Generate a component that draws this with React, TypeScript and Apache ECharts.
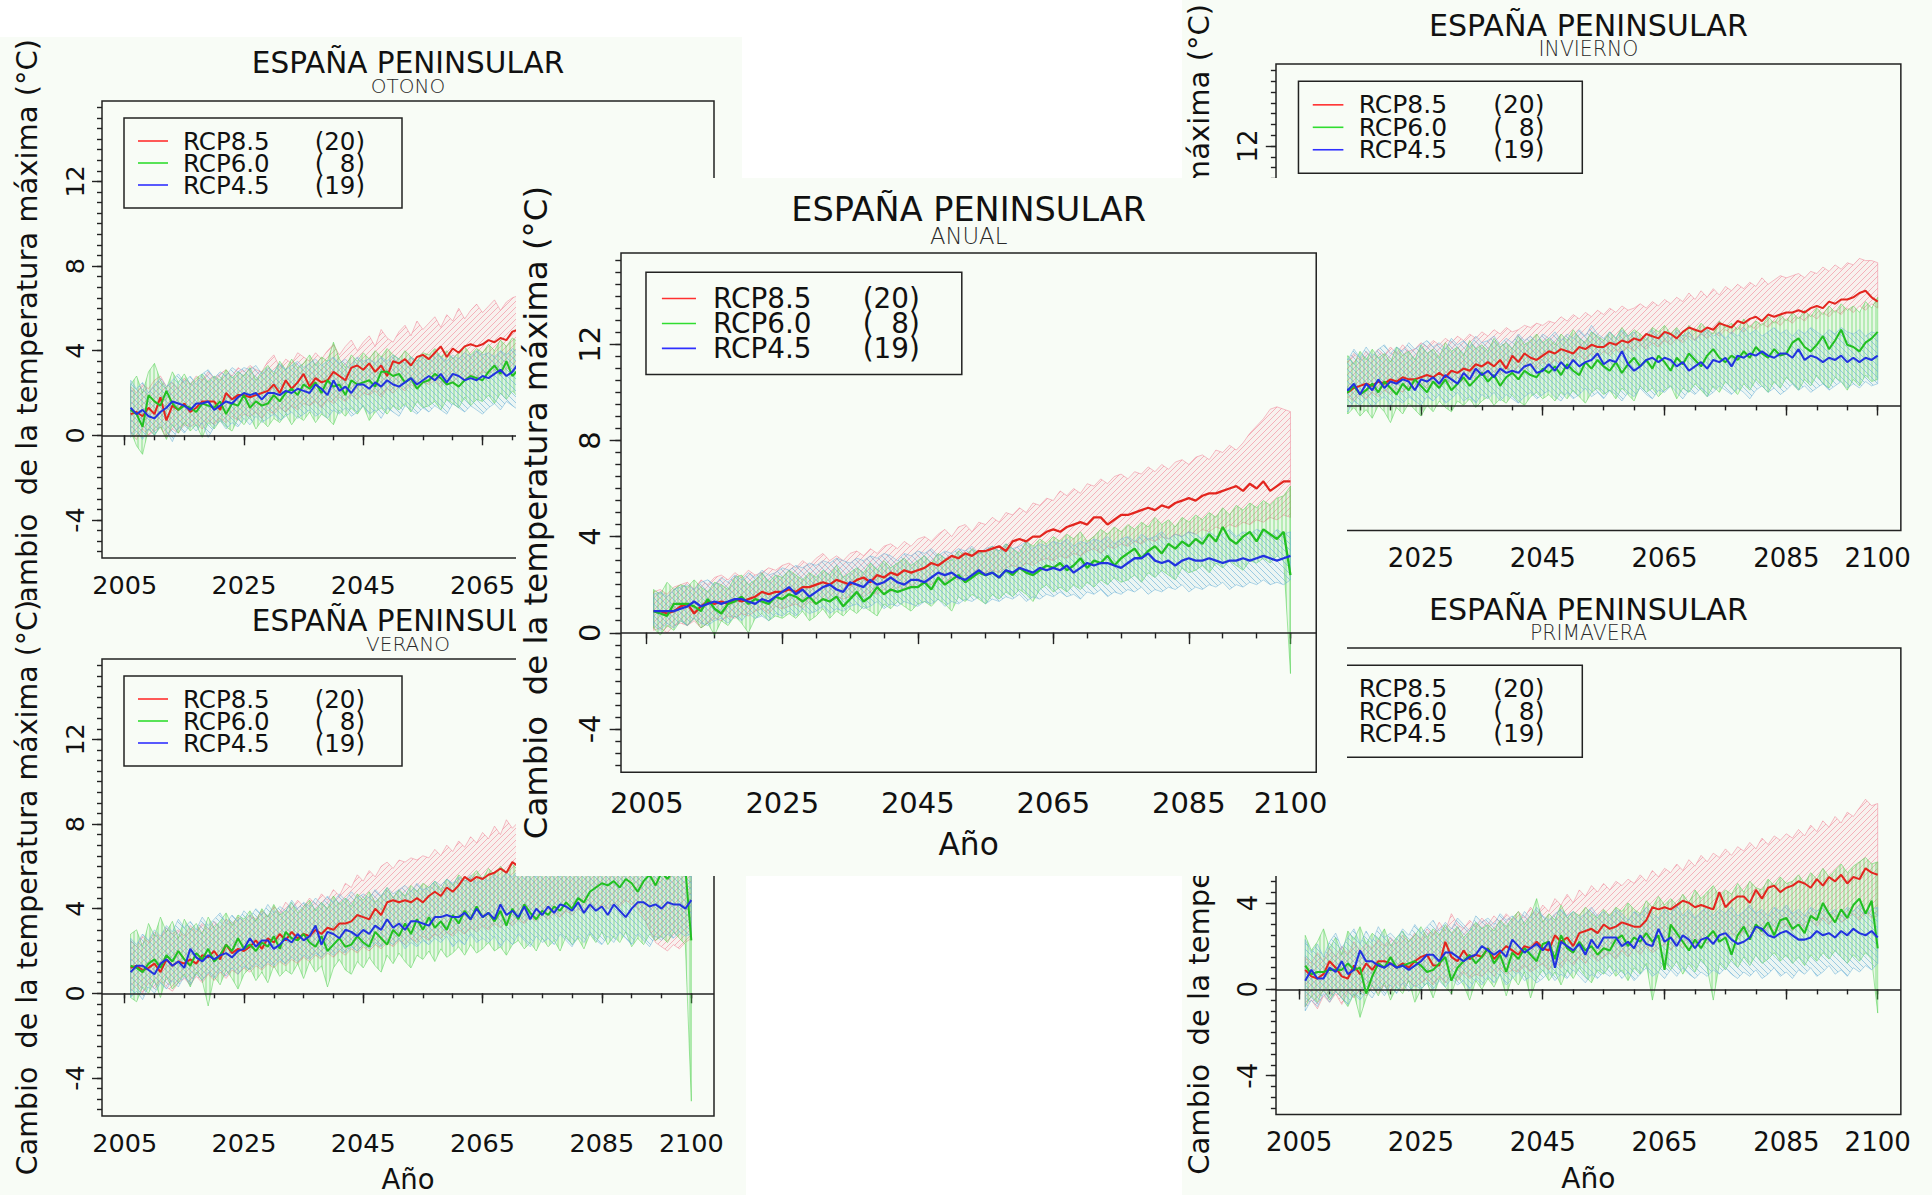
import React, { useEffect, useRef } from "react";
import * as echarts from "echarts";

// ---------------- DATA ----------------
const START_YEAR = 2006;
const TITLE = "ESPAÑA PENINSULAR";
const Y_NAME = "Cambio  de la temperatura máxima (°C)";
const X_NAME = "Año";
const SCENARIOS = ["RCP8.5", "RCP6.0", "RCP4.5"];
const MODEL_COUNTS = ["(20)", "(\u20078)", "(19)"];
const X_LABEL_TICKS = [2005, 2025, 2045, 2065, 2085, 2100];
const X_MINOR_TICKS = [2005, 2010, 2015, 2020, 2025, 2030, 2035, 2040, 2045, 2050, 2055, 2060, 2065, 2070, 2075, 2080, 2085, 2090, 2095, 2100];
const Y_LABEL_TICKS = [-4, 0, 4, 8, 12];
const Y_MINOR_TICKS = [-5.5, -5, -4.5, -4, -3.5, -3, -2.5, -2, -1.5, -1, -0.5, 0, 0.5, 1, 1.5, 2, 2.5, 3, 3.5, 4, 4.5, 5, 5.5, 6, 6.5, 7, 7.5, 8, 8.5, 9, 9.5, 10, 10.5, 11, 11.5, 12, 12.5, 13, 13.5, 14, 14.5, 15, 15.5];

// ANUAL
const anual85 = [0.9,0.9,0.8,0.9,1.1,1.2,0.8,1.1,1.3,1.2, 1.3,1.2,1.4,1.3,1.4,1.5,1.7,1.6,1.7,1.7, 1.8,1.7,1.9,1.9,2.0,2.1,2.0,2.2,2.1,2.0, 2.2,2.3,2.1,2.4,2.3,2.5,2.4,2.6,2.5,2.6, 2.7,2.9,2.8,3.0,3.2,3.1,3.3,3.2,3.4,3.4, 3.5,3.6,3.4,3.8,3.9,3.8,4.0,4.0,4.2,4.3, 4.2,4.4,4.5,4.6,4.5,4.8,4.8,4.5,4.7,4.9, 4.9,5.0,5.1,5.2,5.1,5.3,5.2,5.4,5.5,5.6, 5.5,5.7,5.8,5.8,5.9,6.0,6.1,5.9,6.2,6.0, 6.3,5.9,6.1,6.3,6.3];
const anual85Hi = [1.7,1.8,1.6,1.9,2.0,2.1,1.8,2.2,2.0,2.3, 2.4,2.2,2.5,2.3,2.6,2.4,2.5,2.7,2.6,2.8, 2.9,2.7,3.0,2.8,3.1,3.3,3.0,3.2,3.0,3.3, 3.4,3.2,3.5,3.3,3.6,3.7,3.5,3.8,3.6,3.9, 4.0,3.8,4.1,4.3,4.0,4.4,4.5,4.2,4.6,4.5, 4.8,4.6,5.0,4.9,5.2,5.0,5.4,5.3,5.6,5.5, 5.9,5.7,6.0,5.8,6.2,6.1,6.4,6.2,6.5,6.6, 6.4,6.7,6.6,6.9,6.7,7.0,6.8,7.1,7.2,7.0, 7.3,7.4,7.2,7.6,7.5,7.8,7.6,7.9,8.3,8.6, 8.9,9.3,9.4,9.3,9.2];
const anual85Lo = [0.1,0.2,0.0,0.3,0.4,0.3,0.5,0.2,0.4,0.6, 0.5,0.7,0.6,0.8,0.7,0.9,1.0,0.8,1.1,1.0, 1.1,1.2,1.0,1.3,1.2,1.4,1.3,1.5,1.4,1.5, 1.6,1.5,1.7,1.6,1.8,1.7,1.9,1.8,2.0,1.9, 2.1,2.0,2.2,2.1,2.3,2.2,2.4,2.3,2.5,2.5, 2.6,2.5,2.7,2.8,2.7,2.9,2.8,3.0,3.1,3.0, 3.2,3.1,3.3,3.2,3.4,3.5,3.3,3.6,3.5,3.7, 3.6,3.8,3.7,3.9,3.8,4.0,3.9,4.1,4.0,4.2, 4.1,4.3,4.2,4.4,4.3,4.5,4.4,4.6,4.5,4.7, 4.6,4.8,4.7,4.9,4.8];
const anual60 = [0.9,0.8,0.7,1.2,1.2,1.2,1.1,0.9,1.4,1.0, 0.8,1.2,1.3,1.5,1.2,1.4,1.3,1.2,1.5,1.4, 1.6,1.5,1.3,1.5,1.2,1.4,1.3,1.5,1.1,1.4, 1.7,1.3,1.5,1.9,1.6,1.8,1.7,1.8,1.9,1.9, 2.1,1.8,2.3,2.0,2.2,2.4,2.1,2.3,2.5,2.4, 2.5,2.3,2.6,2.4,2.7,2.5,2.4,2.6,2.8,2.7, 2.9,2.6,2.8,3.1,2.7,3.0,2.9,3.2,2.8,3.1, 3.3,3.5,3.1,3.4,3.6,3.3,3.7,3.5,3.8,3.6, 3.9,3.7,4.1,3.8,4.4,3.9,3.7,4.0,4.2,3.8, 4.3,4.1,3.9,4.2,2.4];
const anual60Hi = [1.8,1.6,2.1,1.8,2.0,1.9,2.2,1.9,1.7,2.1, 2.0,1.8,2.3,2.4,2.0,2.2,2.5,2.1,2.4,2.3, 2.6,2.4,2.2,2.5,2.3,2.6,2.4,2.8,2.3,2.5, 2.7,2.5,2.9,2.6,3.0,2.7,2.9,3.1,2.8,3.0, 3.2,2.9,3.3,3.1,3.0,3.4,3.2,3.5,3.3,3.4, 3.6,3.4,3.7,3.5,3.3,3.8,3.6,3.9,3.7,4.0, 3.8,4.1,3.9,4.2,3.8,4.0,4.3,4.1,4.4,4.2, 4.5,4.3,4.6,4.4,4.8,4.5,4.7,4.4,4.8,4.6, 4.9,4.7,5.0,4.8,5.2,4.9,5.3,5.1,5.4,5.2, 5.5,5.3,5.6,5.7,6.1];
const anual60Lo = [0.2,-0.1,0.3,0.1,0.5,0.3,0.6,0.2,0.4,-0.1, 0.5,0.3,0.7,0.4,0.0,0.6,0.8,0.5,0.7,0.6, 0.8,0.6,0.9,0.5,0.7,1.0,0.6,0.9,0.7,1.0, 0.8,1.1,0.9,0.7,1.2,1.0,1.3,1.1,0.9,1.2, 1.3,1.1,1.4,1.2,0.9,1.5,1.3,1.6,1.4,1.2, 1.6,1.4,1.7,1.5,1.8,1.6,1.3,1.8,2.0,1.7, 1.9,1.7,2.0,1.8,2.1,1.9,2.2,2.0,2.3,2.1, 2.2,2.4,2.1,2.5,2.3,2.6,2.4,2.2,2.7,2.5, 2.6,2.8,2.5,2.9,2.7,3.0,2.8,2.6,3.0,2.9, 3.1,2.9,3.2,3.0,-1.7];
const anual45 = [0.9,0.9,0.9,0.9,1.0,1.1,1.3,1.1,1.2,1.3, 1.2,1.3,1.4,1.4,1.3,1.2,1.4,1.3,1.5,1.7, 1.9,1.6,1.8,1.5,1.7,1.9,2.0,1.8,1.7,2.1, 2.0,1.9,2.2,2.0,2.1,2.3,2.1,2.0,2.2,2.2, 2.1,2.3,2.5,2.4,2.5,2.3,2.2,2.4,2.6,2.4, 2.5,2.3,2.6,2.5,2.7,2.6,2.5,2.7,2.6,2.7, 2.6,2.8,2.5,2.7,2.9,2.8,2.9,2.9,2.8,2.7, 2.9,3.1,3.1,3.3,3.0,2.9,3.0,2.8,3.0,3.1, 3.0,3.0,3.1,3.0,2.9,3.0,3.0,3.1,3.0,3.1, 3.2,3.1,3.0,3.1,3.2];
const anual45Hi = [1.6,1.7,1.5,1.8,1.9,2.0,1.8,2.1,2.2,2.0, 2.3,2.1,2.4,2.2,2.5,2.3,2.6,2.4,2.5,2.7, 2.6,2.8,2.7,2.9,2.8,3.0,2.9,3.1,3.0,2.9, 3.1,3.0,3.2,3.1,3.3,3.2,3.0,3.3,3.2,3.4, 3.3,3.5,3.2,3.4,3.3,3.5,3.4,3.6,3.3,3.5, 3.6,3.4,3.7,3.5,3.6,3.8,3.5,3.7,3.6,3.8, 3.7,3.9,3.6,3.8,3.7,3.9,3.8,4.0,3.7,3.9, 4.0,3.8,4.1,3.9,4.0,4.2,3.9,4.1,4.0,4.2, 4.1,3.9,4.2,4.0,4.1,4.3,4.0,4.2,4.1,4.3, 4.2,4.0,4.3,4.1,4.2];
const anual45Lo = [0.3,0.1,0.4,0.2,0.5,0.3,0.6,0.4,0.3,0.5, 0.6,0.4,0.7,0.5,0.8,0.6,0.7,0.5,0.8,0.7, 0.9,0.7,1.0,0.8,0.9,1.1,0.8,1.0,0.9,1.1, 1.2,1.0,1.1,1.3,1.0,1.2,1.1,1.3,1.2,1.1, 1.3,1.2,1.4,1.1,1.3,1.2,1.4,1.3,1.5,1.2, 1.4,1.3,1.5,1.4,1.6,1.3,1.5,1.4,1.6,1.5, 1.7,1.5,1.6,1.4,1.7,1.6,1.8,1.5,1.7,1.6, 1.8,1.7,1.9,1.6,1.8,1.7,1.9,1.8,2.0,1.7, 1.9,1.8,2.0,1.9,2.1,1.8,2.0,1.9,2.1,2.0, 2.2,2.0,2.1,2.0,2.2];

// OTOÑO (2006-2075, rest hidden under the ANUAL panel)
const otono85 = [1.0,1.1,0.9,1.3,1.0,1.8,0.7,1.4,1.2,1.5, 1.1,1.3,1.6,1.6,1.6,1.2,2.0,1.7,1.9,1.9, 1.8,1.9,2.0,2.1,2.4,2.0,2.6,2.2,2.5,2.9, 2.3,2.7,2.5,2.6,3.0,2.8,2.6,3.2,3.3,3.1, 3.4,3.0,3.3,2.8,3.5,3.4,3.6,3.3,3.7,3.8, 3.6,3.9,4.2,3.7,4.1,3.9,4.2,4.3,4.2,4.3, 4.5,4.4,4.6,4.5,4.9,5.0,4.9,5.2,5.1,5.3];
const otono85Hi = [2.3,2.0,2.4,2.2,2.6,2.8,2.3,2.5,2.2,2.7, 2.4,2.8,2.6,3.0,2.7,2.9,3.1,2.8,3.2,3.0, 3.3,3.1,3.0,3.5,3.8,3.2,3.6,3.4,3.9,3.7, 3.5,3.9,3.6,4.0,4.3,3.8,4.2,4.5,4.0,4.4, 4.7,4.2,5.0,4.6,4.4,4.9,5.2,4.7,5.4,5.0, 5.3,5.6,5.1,5.7,5.4,6.0,5.5,5.9,6.2,5.8, 6.1,6.4,5.9,6.3,6.5,6.6,6.4,6.7,6.5,6.8];
const otono85Lo = [0.1,-0.2,0.3,0.0,0.2,0.4,-0.1,0.3,0.1,0.5, 0.4,0.6,0.3,0.7,0.5,0.8,0.6,0.9,0.7,1.0, 0.9,1.1,0.8,1.2,1.0,1.3,1.1,1.4,1.2,1.5, 1.4,1.6,1.3,1.7,1.5,1.8,1.6,1.9,1.7,2.0, 1.9,2.1,1.8,2.2,2.0,2.3,2.1,2.4,2.2,2.5, 2.4,2.6,2.3,2.7,2.5,2.8,2.6,2.9,2.7,3.0, 2.9,3.1,2.8,3.2,3.0,3.3,3.1,3.4,3.2,3.5];
const otono60 = [1.2,1.0,0.4,1.9,1.6,1.4,2.1,1.5,1.2,1.4, 1.3,1.1,1.5,1.4,1.3,1.6,1.0,1.5,1.4,1.9, 1.3,1.6,1.4,1.5,1.9,1.6,2.0,2.2,1.9,2.4, 2.2,2.5,2.0,2.6,2.3,2.4,1.9,2.6,2.4,2.5, 2.6,2.3,3.0,3.0,2.8,2.9,2.5,2.7,2.2,2.5, 2.6,2.9,2.7,2.4,2.5,2.3,2.6,2.8,2.7,2.6, 3.0,3.3,2.9,3.5,2.8,3.1,3.3,3.0,3.4,3.2];
const otono60Hi = [2.4,2.8,2.0,3.0,3.4,2.6,2.2,3.0,2.5,2.9, 2.4,2.7,2.9,2.5,2.8,2.6,3.1,2.7,3.0,2.8, 3.2,2.6,3.0,3.3,2.9,3.5,3.1,3.6,3.2,3.4, 3.8,3.3,3.7,3.5,4.4,3.6,3.2,3.8,3.5,3.9, 3.6,4.0,3.7,4.1,3.8,3.6,4.0,3.7,3.5,3.9, 3.8,4.1,3.7,4.0,3.6,3.9,4.2,3.8,4.1,3.9, 4.3,4.0,4.5,4.2,4.6,4.4,4.7,4.5,4.8,4.6];
const otono60Lo = [0.2,-0.5,-0.9,0.3,0.0,0.4,-0.2,0.5,0.1,0.6, 0.2,0.5,-0.1,0.6,0.3,0.7,0.4,0.2,0.8,0.5, 0.9,0.3,0.7,0.4,0.8,0.6,1.0,0.5,0.9,0.7, 1.1,0.6,1.0,0.8,0.5,1.2,0.9,1.3,1.0,1.4, 0.7,1.1,1.3,1.0,1.4,1.2,1.5,1.1,1.6,1.3, 1.4,1.6,1.2,1.7,1.5,1.3,1.8,1.4,1.7,1.6, 1.9,1.5,2.0,1.7,2.1,1.8,2.2,1.9,2.3,2.0];
const otono45 = [1.3,1.0,1.2,0.9,0.8,1.1,1.3,1.6,1.5,1.4, 1.2,1.5,1.5,1.6,1.2,1.4,1.6,1.5,1.8,2.0, 1.9,2.0,1.7,2.0,2.0,1.9,2.1,2.0,2.2,2.1, 2.0,2.4,2.2,1.9,2.6,2.1,2.3,2.0,2.4,2.4, 2.2,2.5,2.3,2.6,2.4,2.3,2.5,2.7,2.4,2.6, 2.8,2.6,2.9,2.5,2.9,2.8,2.6,2.7,2.6,2.8, 2.7,2.9,3.1,2.8,3.0,3.4,3.2,3.3,3.1,3.4];
const otono45Hi = [2.6,2.2,2.5,2.0,2.4,2.7,2.3,2.6,2.9,2.5, 2.8,2.4,2.9,3.1,2.7,3.0,2.8,3.2,3.0,3.2, 3.1,3.3,2.9,3.2,3.0,3.4,3.1,3.3,3.5,3.2, 3.4,3.6,3.3,3.5,3.7,3.4,3.6,3.3,3.7,3.5, 3.6,3.4,3.7,3.5,3.8,3.6,3.4,3.7,3.5,3.8, 3.6,3.9,3.7,3.5,3.8,3.6,3.9,3.7,4.0,3.8, 3.9,3.7,4.0,3.8,4.1,3.9,4.2,4.0,4.3,4.1];
const otono45Lo = [-0.1,0.2,-0.2,0.3,0.0,0.5,0.2,-0.3,0.4,0.1, 0.5,0.2,0.6,-0.1,0.4,0.7,0.3,0.6,0.4,0.8, 0.5,0.9,0.6,0.8,1.0,0.7,0.9,1.1,0.8,1.0, 1.2,0.9,1.1,0.8,1.2,1.0,1.3,0.9,1.1,1.4, 1.0,1.2,0.8,1.3,1.1,0.9,1.4,1.2,1.0,1.3, 1.1,1.4,1.2,1.0,1.5,1.3,1.1,1.4,1.2,1.0, 1.3,1.5,1.2,1.6,1.4,1.2,1.7,1.5,1.3,1.6];

// VERANO
const verano85 = [1.2,1.3,1.1,1.2,1.4,1.0,1.6,1.3,1.5,1.4, 1.6,1.4,1.8,1.7,2.0,1.6,2.3,1.9,2.1,2.0, 2.2,2.5,2.1,2.6,2.4,2.8,2.5,2.9,2.6,2.8, 2.7,3.0,2.8,3.1,3.0,3.3,3.3,3.4,3.7,3.6, 3.5,4.0,3.7,4.3,4.4,4.3,4.4,4.3,4.5,4.3, 4.6,4.8,4.6,5.0,4.8,5.1,5.5,5.3,5.5,5.4, 5.6,5.7,5.9,5.7,6.2,6.0,6.3,6.1,6.5,6.4, 6.6,6.5,6.8,6.7,7.0,6.8,7.1,7.0,7.2,7.1, 7.3,7.4,7.2,7.6,7.5,7.7,7.6,7.9,7.8,8.0, 8.1,7.9,8.2,8.1,8.2];
const verano85Hi = [2.5,2.2,2.7,2.4,2.9,2.6,3.1,2.8,3.0,2.7, 3.2,2.9,3.3,3.0,3.4,3.1,3.5,3.3,3.6,3.4, 3.7,3.5,3.9,3.6,4.1,3.8,4.3,4.0,4.4,4.1, 4.5,4.2,4.7,4.4,4.9,4.6,5.2,5.0,5.6,5.3, 5.8,5.5,6.0,6.2,5.9,6.3,6.2,6.4,6.3,6.5, 6.4,6.8,6.5,7.0,6.7,7.2,6.9,7.4,7.1,7.6, 7.3,7.9,7.5,8.2,7.8,8.1,8.3,8.0,8.5,8.2, 8.6,8.4,8.8,8.5,9.0,8.7,9.2,8.9,9.3,9.1, 9.5,9.2,9.6,9.4,9.8,9.5,10.0,9.7,10.1,9.9, 10.2,10.0,10.3,10.1,10.2];
const verano85Lo = [0.1,0.4,0.0,0.5,0.2,0.6,0.3,0.1,0.5,0.7, 0.4,0.8,0.5,0.9,0.6,1.0,0.7,1.1,0.9,1.2, 1.0,1.3,1.1,1.4,1.2,1.5,1.3,1.6,1.4,1.7, 1.5,1.8,1.6,1.9,1.7,2.0,1.8,2.1,1.9,2.2, 2.0,2.3,2.1,2.4,2.2,2.5,2.3,2.6,2.4,2.7, 2.5,2.8,2.6,2.9,2.7,3.0,2.8,3.1,2.9,3.2, 3.0,3.3,3.1,3.4,3.2,3.5,3.3,3.6,3.4,3.7, 3.5,3.8,3.6,3.9,3.7,4.0,3.8,4.1,3.9,4.2, 4.0,4.3,4.1,4.4,4.2,4.0,3.6,3.0,2.4,2.2, 2.0,2.3,2.1,2.4,2.6];
const verano60 = [1.3,1.2,1.0,1.4,1.6,1.2,1.8,1.5,2.0,1.6, 1.3,1.9,1.6,2.1,1.5,1.8,2.3,2.0,2.6,2.1, 2.3,2.0,2.4,2.2,2.7,2.1,2.9,2.6,2.5,2.8, 2.4,2.2,2.7,2.0,2.3,2.6,2.2,2.3,2.7,2.4, 2.2,2.9,2.6,2.3,3.0,2.7,3.3,2.8,3.5,3.0, 3.6,3.1,3.4,3.0,3.7,3.3,3.9,3.5,4.1,3.6, 3.8,3.4,3.9,3.2,4.0,3.5,4.2,3.8,3.5,3.9, 3.7,4.1,3.9,4.3,4.0,4.5,4.3,4.8,5.0,5.2, 5.1,5.3,5.0,5.4,5.2,4.8,5.3,5.6,5.1,5.7, 5.4,5.8,5.6,5.9,2.5];
const verano60Hi = [2.8,3.0,2.2,3.3,2.7,3.6,2.9,3.4,2.6,3.5, 3.0,3.3,2.8,3.6,3.1,3.4,3.8,3.2,3.7,3.5, 3.9,3.4,4.0,3.6,4.2,3.7,3.9,4.3,3.8,4.1, 4.4,3.9,4.3,4.0,4.6,4.2,4.5,4.1,4.7,4.4, 4.8,4.3,4.6,5.0,4.5,4.9,4.6,5.1,4.8,5.2, 5.0,5.3,4.9,5.4,5.1,5.6,5.3,5.5,5.8,5.4, 5.9,5.6,6.0,5.7,6.1,5.8,6.2,5.9,6.3,6.0, 6.4,6.1,6.5,6.2,6.6,6.3,6.8,6.5,7.0,6.7, 7.1,6.8,7.2,6.9,7.3,7.0,7.4,7.1,7.5,7.2, 7.6,7.3,7.7,7.5,7.6];
const verano60Lo = [-0.2,-0.4,0.3,0.0,0.6,-0.2,0.8,0.2,0.5,0.9, 0.3,1.0,0.6,-0.6,0.8,0.4,1.1,0.7,0.2,0.9, 1.2,0.6,1.0,0.5,1.3,0.8,1.1,0.9,1.4,0.7, 1.5,1.0,1.3,0.3,1.2,1.6,1.1,0.9,1.5,1.2, 1.7,1.3,1.0,1.8,1.4,1.9,1.5,1.2,1.8,1.6, 2.0,1.5,2.1,1.7,1.9,2.2,1.8,2.3,1.9,2.1, 2.4,2.0,2.2,1.8,2.3,2.5,2.1,2.4,2.0,2.6, 2.2,2.5,2.0,2.7,2.3,2.6,2.1,2.8,2.4,2.9, 2.3,2.7,2.4,2.9,2.2,2.6,2.3,2.8,2.5,2.7, 2.4,2.9,2.6,2.3,-5.1];
const verano45 = [1.0,1.3,1.3,1.1,0.9,1.4,1.6,1.3,1.5,1.2, 2.1,1.7,1.5,1.8,1.6,1.8,1.9,1.7,2.0,2.1, 2.6,2.2,2.5,2.5,2.1,2.3,2.6,2.4,2.8,2.5, 2.7,3.2,2.3,2.9,2.8,2.6,3.0,2.9,2.7,3.0, 2.8,3.2,3.0,3.5,3.1,3.3,3.0,3.4,3.4,3.3, 3.2,3.6,3.6,3.7,3.6,3.6,3.8,3.5,4.0,3.6, 3.8,3.5,4.2,3.7,3.9,3.6,4.1,3.5,4.0,3.7, 4.1,3.8,4.2,4.1,3.9,4.3,3.8,4.2,3.9,4.1, 3.7,4.2,3.9,3.6,4.0,4.3,4.3,4.1,4.2,4.0, 4.3,4.2,4.2,4.0,4.4];
const verano45Hi = [2.6,2.3,2.8,2.5,3.0,2.7,3.2,2.9,3.5,3.1, 3.4,3.0,3.6,3.2,3.5,3.8,3.3,3.7,3.4,3.9, 3.6,4.0,3.7,4.2,3.8,4.1,3.9,4.4,4.0,4.3, 4.1,4.5,4.2,4.6,4.3,4.7,4.4,4.8,4.5,4.7, 4.5,4.9,4.6,5.0,4.7,4.9,5.1,4.8,5.2,4.9, 5.0,5.3,5.1,5.4,5.2,5.5,5.3,5.6,5.2,5.5, 5.3,5.6,5.4,5.7,5.5,5.8,5.4,5.7,5.5,5.8, 5.6,5.9,5.5,5.8,5.6,5.9,5.7,6.0,5.8,6.1, 5.9,6.2,5.8,6.1,5.9,6.3,6.0,6.2,6.1,6.4, 6.2,6.5,6.3,6.4,6.3];
const verano45Lo = [-0.2,0.1,-0.3,0.3,0.0,0.5,0.2,0.6,0.3,0.8, 0.4,0.9,0.6,1.0,0.7,1.1,0.8,1.2,0.9,1.3, 1.1,1.4,1.2,1.5,1.3,1.6,1.4,1.7,1.5,1.8, 1.6,1.9,1.7,2.0,1.8,2.1,1.9,2.2,2.0,2.3, 2.1,2.4,2.2,2.5,2.3,2.6,2.1,2.4,2.2,2.5, 2.3,2.6,2.4,2.7,2.2,2.5,2.3,2.8,2.4,2.6, 2.4,2.7,2.2,2.6,2.3,2.8,2.5,2.2,2.7,2.4, 2.6,2.3,2.8,2.5,2.2,2.7,2.4,2.9,2.5,2.3, 2.7,2.4,2.9,2.6,2.3,2.8,2.5,2.2,2.7,2.5, 2.8,2.6,2.9,2.7,2.8];

// INVIERNO
const invierno85 = [0.3,0.5,0.4,0.6,0.5,0.7,0.6,0.6,0.8,0.9, 1.0,0.9,1.1,1.0,1.2,1.1,1.3,1.2,1.2,1.3, 1.4,1.3,1.5,1.3,1.6,1.5,1.7,1.6,1.9,1.8, 2.0,1.8,2.1,1.7,2.3,2.0,2.4,2.2,2.1,2.3, 2.5,2.4,2.6,2.5,2.4,2.7,2.6,2.8,2.7,2.7, 2.9,2.8,3.0,2.9,3.1,3.0,3.3,3.2,3.1,3.4, 3.3,3.1,3.4,3.6,3.5,3.4,3.6,3.5,3.8,3.7, 3.6,3.9,3.8,4.0,4.1,3.9,4.2,4.1,4.2,4.3, 4.3,4.4,4.3,4.5,4.6,4.5,4.8,4.7,4.9,4.9, 5.0,5.2,5.3,5.0,4.8];
const invierno85Hi = [1.9,1.6,2.1,1.8,2.2,1.9,2.3,2.0,2.4,2.1, 2.5,2.2,2.6,2.3,2.7,2.4,2.8,2.5,2.6,2.9, 2.7,3.0,2.8,3.1,2.9,3.2,3.0,3.3,3.1,3.4, 3.2,3.5,3.3,3.6,3.4,3.5,3.7,3.6,3.8,3.7, 3.9,3.8,4.1,3.9,4.2,4.0,4.3,4.1,4.4,4.2, 4.5,4.3,4.6,4.4,4.5,4.7,4.5,4.8,4.6,4.9, 4.7,5.0,4.8,5.2,4.9,5.3,5.0,5.4,5.1,5.5, 5.3,5.6,5.4,5.7,5.5,5.9,5.6,5.8,6.0,5.9, 6.0,6.1,5.9,6.2,6.1,6.4,6.2,6.5,6.3,6.6, 6.5,6.8,6.7,6.7,6.6];
const invierno85Lo = [-0.3,0.0,-0.2,0.2,0.0,0.3,0.1,0.4,0.2,0.5, 0.3,0.6,0.4,0.7,0.5,0.8,0.6,0.9,0.7,1.0, 0.8,1.1,0.9,1.2,1.0,1.3,1.1,1.4,1.2,1.5, 1.3,1.6,1.4,1.7,1.5,1.8,1.6,1.9,1.7,2.0, 1.8,2.1,1.9,2.2,2.0,2.3,2.1,2.4,2.2,2.5, 2.3,2.6,2.4,2.7,2.5,2.8,2.6,2.9,2.7,3.0, 2.8,3.1,2.9,3.2,3.0,3.3,3.1,3.4,3.2,3.5, 3.3,3.6,3.4,3.7,3.5,3.8,3.6,3.9,3.7,4.0, 3.8,4.1,3.9,4.2,4.0,4.3,4.1,4.4,4.2,4.5, 4.3,4.6,4.4,4.7,4.5];
const invierno60 = [0.5,0.2,0.6,0.3,0.7,0.4,0.8,0.6,0.9,0.5, 0.7,1.0,0.6,1.1,0.8,0.5,1.0,0.7,1.2,0.9, 0.6,1.1,0.8,1.2,0.7,1.0,1.3,0.9,1.2,1.5, 1.1,1.4,0.9,1.3,1.5,1.2,1.6,1.4,1.3,1.7, 1.5,1.8,1.4,1.9,1.6,1.4,2.0,1.7,2.1,1.8, 1.6,2.0,1.5,1.9,2.2,1.8,2.1,1.7,2.3,2.0, 1.6,2.2,1.9,2.4,2.1,1.8,2.3,2.6,2.2,2.0, 2.3,2.1,2.5,2.2,2.7,2.4,2.2,2.6,2.3,2.4, 2.9,3.1,2.7,2.5,2.8,3.2,2.6,3.0,3.5,2.8, 2.7,2.5,2.9,3.1,3.4];
const invierno60Hi = [1.9,2.3,1.7,2.2,1.8,2.4,2.0,2.3,1.9,2.5, 2.1,2.6,2.2,2.4,2.0,2.7,2.3,2.5,2.1,2.8, 2.4,2.6,2.2,2.9,2.5,2.7,2.3,3.0,2.6,2.8, 2.5,3.1,2.7,2.9,2.6,3.2,2.8,3.0,3.3,2.9, 3.1,2.8,3.3,3.0,3.5,3.1,2.9,3.4,3.2,3.0, 3.4,3.1,3.6,3.2,3.5,3.3,3.0,3.6,3.4,3.7, 3.3,3.6,3.2,3.7,3.4,3.8,3.5,3.3,3.9,3.6, 3.8,3.5,4.0,3.6,3.9,3.7,4.1,3.8,4.2,3.9, 4.3,4.0,4.4,4.1,4.5,4.2,4.6,4.3,4.7,4.4, 4.6,4.3,4.8,4.5,5.0];
const invierno60Lo = [-0.6,-0.2,-0.5,-0.1,-0.7,-0.3,0.0,-0.4,-0.1,-0.5, -0.2,-0.6,0.0,-0.3,-0.8,-0.1,-0.4,0.1,-0.2,-0.5, 0.0,-0.3,0.2,-0.1,-0.3,0.2,0.0,0.3,-0.1,0.2, 0.4,0.0,0.3,0.1,0.5,0.2,0.0,0.4,0.6,0.3, 0.5,0.2,0.6,0.3,0.7,0.4,0.1,0.6,0.8,0.5, 0.7,0.3,0.8,0.5,0.2,0.9,0.6,0.8,0.4,0.7, 0.9,0.3,0.8,0.6,1.0,0.7,0.4,0.9,0.6,1.1, 0.8,0.5,1.0,0.7,1.2,0.9,0.6,1.1,0.8,1.3, 1.0,0.7,1.2,0.9,1.4,1.0,0.8,1.3,1.1,0.7, 1.2,0.9,1.4,1.1,1.2];
const invierno45 = [0.6,0.9,0.5,0.8,1.0,0.6,0.9,0.7,1.0,0.5, 1.0,0.7,1.2,0.8,1.1,1.0,1.2,1.1,0.7,1.2, 1.1,1.3,1.0,1.4,1.2,1.0,1.5,1.2,1.7,1.4, 1.6,1.3,1.7,1.5,1.6,1.5,1.8,1.9,1.5,1.6, 1.9,1.6,2.0,1.7,2.1,1.8,2.0,2.1,2.4,1.9, 2.1,2.0,2.5,1.9,1.6,1.8,2.1,2.2,2.0,2.2, 2.1,1.8,2.0,1.6,1.8,2.0,1.7,2.1,2.0,2.2, 1.8,2.3,2.2,2.4,2.3,2.5,2.3,2.2,2.4,2.4, 2.2,2.6,2.1,2.3,2.2,2.0,2.2,2.1,2.3,2.0, 2.2,2.0,2.2,2.1,2.3];
const invierno45Hi = [2.2,1.8,2.4,2.0,2.3,1.9,2.5,2.1,2.6,2.2, 2.7,2.3,2.6,2.8,2.4,2.7,2.5,2.9,2.6,2.8, 3.0,2.7,2.9,2.6,3.1,2.8,3.0,2.7,3.2,2.9, 3.0,3.2,2.8,3.1,2.9,3.3,3.0,3.2,2.9,3.3, 3.1,3.4,3.0,3.3,3.1,3.5,3.2,3.7,3.3,3.1, 3.4,3.1,3.5,3.2,3.4,3.0,3.3,3.5,3.2,3.4, 3.1,3.5,3.2,3.4,3.0,3.3,3.5,3.2,3.4,3.1, 3.4,3.2,3.6,3.3,3.5,3.2,3.4,3.6,3.3,3.5, 3.2,3.5,3.3,3.6,3.4,3.2,3.5,3.3,3.6,3.4, 3.3,3.5,3.2,3.4,3.3];
const invierno45Lo = [-0.3,0.1,-0.2,0.2,-0.1,0.3,0.0,-0.3,0.2,0.0, 0.3,-0.1,0.2,0.4,0.0,0.3,0.1,0.4,0.2,0.0, 0.4,0.2,0.5,0.1,0.3,0.6,0.2,0.4,0.1,0.5, 0.3,0.6,0.2,0.5,0.3,0.1,0.4,0.6,0.3,0.5, 0.7,0.4,0.2,0.6,0.3,0.5,0.8,0.4,0.6,0.3, 0.7,0.5,0.2,0.6,0.4,0.8,0.5,0.3,0.7,0.6, 0.9,0.6,0.3,0.7,0.5,0.8,0.4,0.6,0.9,0.7, 0.5,0.8,0.6,0.3,0.7,0.9,0.6,0.8,0.5,0.7, 1.0,0.7,0.9,0.6,0.8,1.0,0.7,0.9,1.1,0.8, 1.0,0.8,1.1,0.9,1.0];

// PRIMAVERA
const primavera85 = [0.9,0.6,0.5,0.7,1.3,1.0,0.6,0.5,1.1,0.7, 1.2,0.9,1.3,1.3,1.2,1.0,1.2,1.0,1.3,1.5, 1.6,1.1,1.1,2.2,1.5,1.3,1.8,1.4,1.6,1.5, 1.9,1.4,1.7,2.0,1.8,1.6,2.0,1.9,2.2,1.9, 1.8,2.5,2.2,2.4,2.0,2.6,2.7,2.8,2.6,3.0, 2.8,2.9,3.1,3.0,2.9,2.9,3.2,3.8,3.7,3.8, 3.7,3.9,4.1,4.0,3.8,3.9,3.8,3.7,4.5,3.8, 4.1,4.3,4.3,4.0,4.6,4.2,4.7,4.8,4.5,4.7, 4.8,5.0,4.9,4.7,5.1,4.8,5.2,5.0,5.3,4.9, 5.2,5.1,5.6,5.4,5.3];
const primavera85Hi = [1.5,1.2,1.7,1.3,1.9,1.5,2.0,1.6,2.2,1.8, 2.1,1.9,2.3,2.0,2.4,2.1,2.5,2.2,2.6,2.3, 2.8,2.5,3.1,2.7,3.5,3.0,2.8,3.2,2.9,3.3, 3.0,3.4,3.1,3.5,3.2,3.6,3.3,3.8,3.4,3.9, 3.6,4.2,3.9,4.4,4.0,4.6,4.3,4.8,4.5,4.9, 4.6,5.0,4.8,5.1,4.9,5.3,5.0,5.5,5.2,5.6, 5.4,5.8,5.5,6.0,5.7,6.2,5.9,6.3,6.1,6.5, 6.2,6.6,6.4,6.8,6.5,7.0,6.7,7.1,6.9,7.2, 7.0,7.4,7.1,7.6,7.3,7.8,7.5,8.0,7.7,8.2, 8.0,8.4,8.8,8.5,8.6];
const primavera85Lo = [-0.8,-0.5,-0.9,-0.3,-0.6,-0.2,-0.7,-0.1,-0.4,0.0, -0.3,0.1,-0.2,0.2,-0.1,0.3,0.0,0.4,0.1,0.3, 0.5,0.2,0.6,0.3,0.7,0.4,0.8,0.5,0.7,0.6, 0.9,0.6,1.0,0.7,0.9,0.8,1.1,0.8,1.0,1.2, 0.9,1.3,1.0,1.4,1.1,1.5,1.2,1.6,1.3,1.5, 1.7,1.4,1.8,1.5,1.9,1.6,2.0,1.7,1.9,2.1, 1.8,2.2,1.9,2.3,2.0,2.4,2.1,2.5,2.2,2.4, 2.6,2.3,2.7,2.4,2.8,2.5,2.9,2.6,2.8,3.0, 2.7,3.1,2.8,3.2,2.9,3.3,3.0,3.4,3.1,3.3, 3.5,3.2,3.6,3.3,3.4];
const primavera60 = [1.1,0.7,0.8,0.8,0.9,0.9,0.9,1.2,0.9,1.0, -0.2,0.6,1.2,1.0,1.5,1.0,1.1,1.2,1.3,1.1, 0.8,0.9,1.2,1.5,0.4,1.0,1.3,1.6,1.2,1.5, 1.9,1.2,1.6,0.8,1.7,1.4,1.9,1.6,1.3,2.1, 2.2,1.4,2.5,1.9,1.7,2.2,1.8,2.0,1.6,1.9, 1.8,2.3,2.5,2.0,2.4,2.2,2.6,2.2,2.5,0.9, 3.0,2.6,2.2,1.8,2.3,1.9,2.4,2.7,2.2,2.4, 1.6,2.5,2.9,2.3,3.0,2.7,3.1,2.5,3.2,3.3, 2.8,3.0,2.6,3.4,3.2,4.0,3.5,3.1,3.7,3.3, 3.9,4.2,3.5,4.1,1.9];
const primavera60Hi = [2.5,1.8,2.2,2.8,1.9,2.4,1.6,2.7,2.3,2.9, 2.1,2.6,2.3,2.8,2.0,2.4,2.7,2.2,2.5,2.9, 2.4,2.8,2.5,3.0,2.6,2.9,2.4,2.7,3.1,2.8, 3.0,2.7,3.2,2.9,3.3,3.6,3.0,3.4,4.2,3.1, 3.5,3.2,3.9,3.3,3.6,3.4,3.8,3.5,3.3,3.7, 3.4,3.8,3.6,4.0,3.7,3.5,4.1,3.8,4.3,3.9, 4.2,3.9,4.4,4.0,4.6,4.2,4.5,4.8,4.3,4.6, 4.4,4.9,4.5,5.0,4.7,4.6,5.1,4.8,5.2,4.9, 5.0,5.3,4.9,5.4,5.1,5.6,5.2,5.5,5.8,5.4, 5.7,5.9,6.1,5.8,5.9];
const primavera60Lo = [-0.8,-0.3,-0.6,0.0,-0.5,-0.1,-0.4,-0.8,-0.2,-1.3, -0.4,0.2,-0.3,0.3,-0.5,0.1,-0.2,0.4,-0.6,0.0, 0.3,-0.4,0.5,0.1,-0.2,0.6,0.2,-0.5,0.4,0.0, 0.5,0.1,0.7,-0.3,0.6,0.2,0.8,-0.4,0.5,0.9, 0.4,0.8,0.2,0.9,0.5,1.0,0.6,0.3,0.9,0.7, 1.1,0.6,0.9,0.4,1.0,0.7,1.2,-0.5,0.8,1.3, 0.9,1.3,0.7,1.2,0.8,1.4,1.0,-0.5,1.2,0.9, 1.4,1.0,1.5,1.1,1.6,1.2,1.4,1.7,1.3,1.6, 1.2,1.5,1.1,1.6,1.3,1.7,1.4,1.8,1.5,1.2, 1.6,1.3,1.7,1.4,-1.1];
const primavera45 = [0.4,0.9,0.5,0.5,1.0,0.8,1.3,0.7,0.9,1.8, 1.3,1.3,1.1,1.0,1.2,1.0,1.1,0.9,1.1,1.3, 1.6,1.6,1.3,1.7,1.7,1.5,1.3,1.5,1.6,2.0, 1.8,1.6,1.8,1.5,2.3,2.0,1.7,1.9,2.1,1.8, 2.2,1.0,2.2,2.0,1.8,2.1,1.6,2.3,1.9,2.4, 2.4,2.4,2.0,2.2,1.9,2.5,2.1,2.0,2.8,2.2, 2.4,2.0,2.5,2.3,1.9,2.3,2.4,2.1,2.5,2.6, 2.3,2.1,2.2,2.4,2.9,2.8,2.5,2.4,2.6,2.7, 2.5,2.3,2.3,2.4,2.7,2.5,2.6,2.4,2.7,2.5, 2.8,2.6,2.5,2.7,2.4];
const primavera45Hi = [2.3,1.7,2.1,1.5,2.2,2.6,1.9,2.4,2.8,2.1, 2.7,2.2,2.9,2.4,2.6,2.3,2.8,2.5,3.0,2.6, 2.9,3.2,2.7,3.1,2.8,3.3,3.0,2.7,3.4,3.1, 3.3,3.0,3.5,3.2,3.4,3.1,3.6,3.3,3.8,3.4, 3.2,3.5,3.7,3.4,3.6,3.3,3.5,3.8,3.4,3.6, 3.3,3.7,3.5,3.2,3.6,3.4,3.8,3.5,3.3,3.7, 3.5,3.9,3.4,3.7,3.3,3.6,3.8,3.4,3.7,3.5, 3.8,3.4,3.6,3.9,3.5,3.7,3.4,3.8,3.6,3.9, 3.5,3.7,3.4,3.8,3.6,3.9,3.5,3.7,3.4,3.8, 3.6,3.9,3.5,3.7,3.8];
const primavera45Lo = [-1.0,-0.5,-0.8,-0.2,-0.6,-0.1,-0.4,-0.7,-0.2,-0.5, -0.1,-0.4,0.1,-0.3,0.2,-0.2,0.3,-0.1,0.2,0.0, 0.3,0.0,0.4,0.1,0.5,0.2,0.4,0.0,0.5,0.2, 0.6,0.3,0.7,0.2,0.5,0.8,0.4,0.6,0.3,0.5, 0.8,0.4,0.7,0.5,0.9,0.6,0.3,0.7,0.5,0.8, 0.6,0.9,0.5,0.8,0.4,0.7,1.0,0.6,0.8,0.5, 0.9,0.6,1.0,0.7,0.5,0.8,0.6,0.9,0.7,1.0, 0.7,0.5,0.8,0.6,0.9,0.5,0.7,1.0,0.6,0.8, 0.5,0.9,0.7,1.0,0.6,0.8,1.1,0.7,0.9,0.6, 1.0,0.8,1.1,0.9,1.2];

// ---------------- LAYOUT / STYLE ----------------
const BG = "#f8fcf6";
const FONT = "DejaVu Sans";
const BOX_W = 612;
const BOX_H = 457;
const X_MIN = 2001.2;
const X_MAX = 2103.8;
const Y_MIN = -5.8;
const Y_MAX = 15.8;
const LINE_COLORS = ["#e3261f", "#22c022", "#2233e0"];
const LEGEND_COLORS = ["#ff3030", "#30dd30", "#3030ff"];
const BAND_TINTS = ["rgba(245,150,168,0.10)", "rgba(80,210,80,0.10)", "rgba(120,185,220,0.10)"];
const BAND_HATCH = ["rgba(240,125,145,0.55)", "rgba(60,205,60,0.55)", "rgba(105,175,215,0.6)"];
const BAND_KIND = ["fwd", "vert", "back"];
const BAND_FALLBACK = ["rgba(244,120,145,0.18)", "rgba(60,205,60,0.2)", "rgba(100,170,215,0.22)"];
const BAND_STROKES = ["rgba(240,125,145,0.5)", "rgba(60,205,60,0.45)", "rgba(105,175,215,0.5)"];

const PANELS = [
  { key: "otono", sub: "OTONO", left: 0, top: 37, width: 742, height: 563, boxL: 102, boxT: 101, s: 1, z: 1,
    showXName: false, yNameSize: 29, yNameShift: 2,
    mean: [otono85, otono60, otono45], lo: [otono85Lo, otono60Lo, otono45Lo], hi: [otono85Hi, otono60Hi, otono45Hi] },
  { key: "verano", sub: "VERANO", left: 0, top: 600, width: 746, height: 595, boxL: 102, boxT: 659, s: 1, z: 2,
    showXName: true, yNameSize: 28.5, yNameShift: 0,
    mean: [verano85, verano60, verano45], lo: [verano85Lo, verano60Lo, verano45Lo], hi: [verano85Hi, verano60Hi, verano45Hi] },
  { key: "invierno", sub: "INVIERNO", left: 1182, top: 0, width: 750, height: 580, boxL: 1276, boxT: 64, s: 1.021, z: 1,
    showXName: false, yNameSize: 28.5, yNameShift: 0,
    mean: [invierno85, invierno60, invierno45], lo: [invierno85Lo, invierno60Lo, invierno45Lo], hi: [invierno85Hi, invierno60Hi, invierno45Hi] },
  { key: "primavera", sub: "PRIMAVERA", left: 1182, top: 580, width: 750, height: 615, boxL: 1276, boxT: 648, s: 1.021, z: 2,
    showXName: true, yNameSize: 28.5, yNameShift: 0,
    mean: [primavera85, primavera60, primavera45], lo: [primavera85Lo, primavera60Lo, primavera45Lo], hi: [primavera85Hi, primavera60Hi, primavera45Hi] },
  { key: "anual", sub: "ANUAL", left: 516, top: 178, width: 831, height: 698, boxL: 621, boxT: 253, s: 1.136, z: 3,
    showXName: true, yNameSize: 28.5, yNameShift: 0,
    mean: [anual85, anual60, anual45], lo: [anual85Lo, anual60Lo, anual45Lo], hi: [anual85Hi, anual60Hi, anual45Hi] },
];

function makeHatch(k: number): any {
  try {
    const size = k === 1 ? 4 : 6;
    const c = document.createElement("canvas");
    c.width = size;
    c.height = size;
    const ctx = c.getContext("2d");
    if (!ctx) return BAND_FALLBACK[k];
    ctx.fillStyle = BAND_TINTS[k];
    ctx.fillRect(0, 0, size, size);
    ctx.strokeStyle = BAND_HATCH[k];
    ctx.lineWidth = 1;
    ctx.beginPath();
    const kind = BAND_KIND[k];
    if (kind === "vert") {
      ctx.moveTo(size / 2, 0);
      ctx.lineTo(size / 2, size);
    } else if (kind === "fwd") {
      ctx.moveTo(0, size); ctx.lineTo(size, 0);
      ctx.moveTo(-1, 1); ctx.lineTo(1, -1);
      ctx.moveTo(size - 1, size + 1); ctx.lineTo(size + 1, size - 1);
    } else {
      ctx.moveTo(0, 0); ctx.lineTo(size, size);
      ctx.moveTo(size - 1, -1); ctx.lineTo(size + 1, 1);
      ctx.moveTo(-1, size - 1); ctx.lineTo(1, size + 1);
    }
    ctx.stroke();
    return { image: c.toDataURL(), repeat: "repeat", imageWidth: size, imageHeight: size };
  } catch (e) {
    return BAND_FALLBACK[k];
  }
}

function buildOption(p: any) {
  const s = p.s;
  const L = p.boxL - p.left;
  const T = p.boxT - p.top;
  const W = BOX_W * s;
  const H = BOX_H * s;
  const toPairs = (arr: number[]) => arr.map((v, i) => [START_YEAR + i, v]);

  const series: any[] = [];
  for (let k = 0; k < 3; k++) {
    const lo = p.lo[k];
    const hi = p.hi[k];
    const fill = makeHatch(k);
    series.push({
      type: "custom",
      silent: true,
      z: 2,
      clip: true,
      data: [[START_YEAR, 0]],
      renderItem: (params: any, api: any) => {
        const pts: number[][] = [];
        for (let i = 0; i < hi.length; i++) pts.push(api.coord([START_YEAR + i, hi[i]]));
        for (let i = lo.length - 1; i >= 0; i--) pts.push(api.coord([START_YEAR + i, lo[i]]));
        return {
          type: "polygon",
          shape: { points: pts },
          style: { fill, stroke: BAND_STROKES[k], lineWidth: 1 },
        };
      },
    });
  }
  for (let k = 0; k < 3; k++) {
    const ser: any = {
      type: "line",
      data: toPairs(p.mean[k]),
      symbol: "none",
      showSymbol: false,
      silent: true,
      z: 4,
      lineStyle: { color: LINE_COLORS[k], width: 2 * s },
      emphasis: { disabled: true },
    };
    if (k === 0) {
      ser.markLine = {
        silent: true,
        symbol: "none",
        label: { show: false },
        lineStyle: { color: "#222", width: 1.5 * s, type: "solid" },
        data: [{ yAxis: 0 }],
        z: 3,
      };
    }
    series.push(ser);
  }

  const tickStyle = { color: "#222", width: 1.4 };
  const baseX = { type: "value", min: X_MIN, max: X_MAX, position: "bottom", splitLine: { show: false }, axisLine: { show: false } };
  const baseY = { type: "value", min: Y_MIN, max: Y_MAX, position: "left", splitLine: { show: false }, axisLine: { show: false } };

  const graphics: any[] = [
    { type: "text", z: 100, x: L + W / 2, y: T - 38 * s,
      style: { text: TITLE, fontSize: 29.5 * s, lineHeight: 22 * s, fontFamily: FONT, fill: "#111", align: "center", verticalAlign: "middle" } },
    { type: "text", z: 100, x: L + W / 2, y: T - 15 * s,
      style: { text: p.sub, fontSize: 20 * s, lineHeight: 15 * s, fontFamily: FONT, fontWeight: 200, fill: "#2a2a2a", align: "center", verticalAlign: "middle" } },
    { type: "text", z: 100, x: L - 75 * s, y: T + H / 2 + p.yNameShift * s, rotation: Math.PI / 2,
      style: { text: Y_NAME, fontSize: p.yNameSize * s, lineHeight: 26 * s, fontFamily: FONT, fill: "#111", align: "center", verticalAlign: "middle" } },
    { type: "rect", z: 100, shape: { x: L + 22 * s, y: T + 17 * s, width: 278 * s, height: 90 * s },
      style: { fill: BG, stroke: "#222", lineWidth: 1.5 } },
  ];
  if (p.showXName) {
    graphics.push({ type: "text", z: 100, x: L + W / 2, y: T + H + 63 * s,
      style: { text: X_NAME, fontSize: 27.5 * s, lineHeight: 26 * s, fontFamily: FONT, fill: "#111", align: "center", verticalAlign: "middle" } });
  }
  for (let k = 0; k < 3; k++) {
    const y = T + (40 + 22 * k) * s;
    graphics.push({ type: "line", z: 101, shape: { x1: L + 36 * s, y1: y, x2: L + 66 * s, y2: y },
      style: { stroke: LEGEND_COLORS[k], lineWidth: 1.6 } });
    graphics.push({ type: "text", z: 101, x: L + 81 * s, y,
      style: { text: SCENARIOS[k], fontSize: 24.5 * s, lineHeight: 20 * s, fontFamily: FONT, fill: "#111", align: "left", verticalAlign: "middle" } });
    graphics.push({ type: "text", z: 101, x: L + 263 * s, y,
      style: { text: MODEL_COUNTS[k], fontSize: 24.5 * s, lineHeight: 20 * s, fontFamily: FONT, fill: "#111", align: "right", verticalAlign: "middle" } });
  }

  return {
    animation: false,
    backgroundColor: BG,
    grid: {
      left: L, top: T, width: W, height: H,
      show: true, borderColor: "#222", borderWidth: 1.5, backgroundColor: "transparent",
      containLabel: false, outerBoundsMode: "none",
    },
    xAxis: [
      { ...baseX,
        axisTick: { show: true, length: 10 * s, lineStyle: tickStyle, customValues: X_LABEL_TICKS },
        axisLabel: { show: true, customValues: X_LABEL_TICKS, formatter: (v: number) => String(v),
          fontSize: 25.5 * s, lineHeight: 22 * s, fontFamily: FONT, color: "#111", margin: 16 * s } },
      { ...baseX, offset: 0,
        axisTick: { show: true, length: 5 * s, lineStyle: tickStyle, customValues: X_MINOR_TICKS },
        axisLabel: { show: false } },
    ],
    yAxis: [
      { ...baseY,
        axisTick: { show: true, length: 10 * s, lineStyle: tickStyle, customValues: Y_LABEL_TICKS },
        axisLabel: { show: true, customValues: Y_LABEL_TICKS, formatter: (v: number) => String(v), rotate: 90,
          fontSize: 25.5 * s, lineHeight: 22 * s, fontFamily: FONT, color: "#111", margin: 16 * s } },
      { ...baseY, offset: 0,
        axisTick: { show: true, length: 5 * s, lineStyle: tickStyle, customValues: Y_MINOR_TICKS },
        axisLabel: { show: false } },
    ],
    graphic: { elements: graphics },
    series,
  };
}

function Panel({ cfg }: { cfg: any }) {
  const ref = useRef<HTMLDivElement>(null);
  useEffect(() => {
    if (!ref.current) return;
    const chart = echarts.init(ref.current, null, { renderer: "svg" });
    chart.setOption(buildOption(cfg) as any);
    return () => chart.dispose();
  }, [cfg]);
  return (
    <div style={{ position: "absolute", left: cfg.left, top: cfg.top, width: cfg.width, height: cfg.height,
      zIndex: cfg.z, overflow: "hidden", background: BG }}>
      <div ref={ref} style={{ width: cfg.width, height: cfg.height }} />
    </div>
  );
}

export default function App() {
  return (
    <div style={{ position: "fixed", left: 0, top: 0, width: 1932, height: 1195, background: "#ffffff", overflow: "hidden" }}>
      {PANELS.map((p) => (
        <Panel key={p.key} cfg={p} />
      ))}
    </div>
  );
}
